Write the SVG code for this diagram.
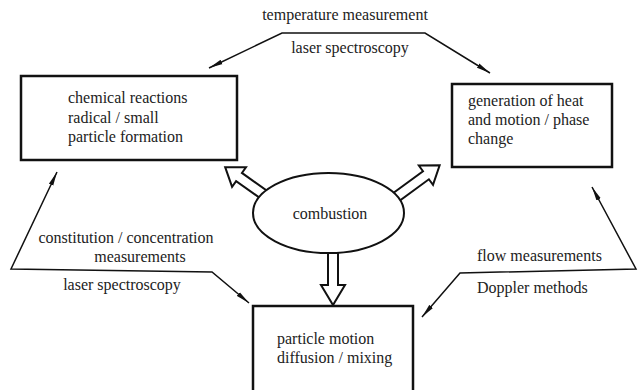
<svg xmlns="http://www.w3.org/2000/svg" width="638" height="390" viewBox="0 0 638 390">
  <style>
    .box { fill: #fff; stroke: #111; stroke-width: 2.5; }
    .lbl { font-family: 'Liberation Serif', 'Times New Roman', 'DejaVu Serif', serif; font-size: 16px; fill: #222; }
    .wire { fill: none; stroke: #111; stroke-width: 1.5; }
    .block { fill: #fff; stroke: #111; stroke-width: 2; stroke-linejoin: miter; }
  </style>
  <defs>
    <marker id="tip" viewBox="0 0 14 6" refX="14" refY="3" markerWidth="14" markerHeight="6" markerUnits="userSpaceOnUse" orient="auto-start-reverse">
      <path d="M0,0.6 L14,3 L0,5.4 Z" fill="#111"/>
    </marker>
  </defs>

  <!-- measurement connectors -->
  <g id="connectors">
    <polyline class="wire" points="209,68 282,33 425,33 490,73" marker-start="url(#tip)" marker-end="url(#tip)"/>
    <polyline class="wire" points="57,172 11,269 212,272 249,303" marker-start="url(#tip)" marker-end="url(#tip)"/>
    <polyline class="wire" points="592,187 636,269 460,273 422,317" marker-start="url(#tip)" marker-end="url(#tip)"/>
  </g>

  <!-- connector labels -->
  <g id="labels">
    <text class="lbl" x="345" y="20" text-anchor="middle">temperature measurement</text>
    <text class="lbl" x="350" y="53" text-anchor="middle">laser spectroscopy</text>
    <text class="lbl" x="126" y="243" text-anchor="middle">constitution / concentration</text>
    <text class="lbl" x="140" y="262" text-anchor="middle">measurements</text>
    <text class="lbl" x="122" y="290" text-anchor="middle">laser spectroscopy</text>
    <text class="lbl" x="477" y="261">flow measurements</text>
    <text class="lbl" x="477" y="293">Doppler methods</text>
  </g>

  <!-- block arrows from the combustion node -->
  <g id="block-arrows">
    <polygon class="block" transform="translate(270,199) rotate(215.4)" points="0,-5 38,-5 38,-12 55,0 38,12 38,5 0,5"/>
    <polygon class="block" transform="translate(388,203) rotate(-36.2)" points="0,-5 47,-5 47,-12 64,0 47,12 47,5 0,5"/>
    <polygon class="block" transform="translate(333,245) rotate(90)" points="0,-5 40,-5 40,-12 60,0 40,12 40,5 0,5"/>
  </g>

  <g id="node-chemistry">
    <rect class="box" x="21" y="76" width="216" height="84"/>
    <text class="lbl" x="68" y="103">chemical reactions</text>
    <text class="lbl" x="68" y="123">radical / small</text>
    <text class="lbl" x="68" y="142">particle formation</text>
  </g>

  <g id="node-heat">
    <rect class="box" x="452" y="84" width="160" height="83"/>
    <text class="lbl" x="468" y="106">generation of heat</text>
    <text class="lbl" x="468" y="125">and motion / phase</text>
    <text class="lbl" x="468" y="144">change</text>
  </g>

  <g id="node-combustion">
    <ellipse cx="328.5" cy="213" rx="75.5" ry="40" fill="#fff" stroke="#111" stroke-width="2"/>
    <text class="lbl" x="330" y="219" text-anchor="middle">combustion</text>
  </g>

  <g id="node-transport">
    <rect class="box" x="253" y="306" width="160" height="100"/>
    <text class="lbl" x="277" y="344">particle motion</text>
    <text class="lbl" x="277" y="363">diffusion / mixing</text>
  </g>
</svg>
